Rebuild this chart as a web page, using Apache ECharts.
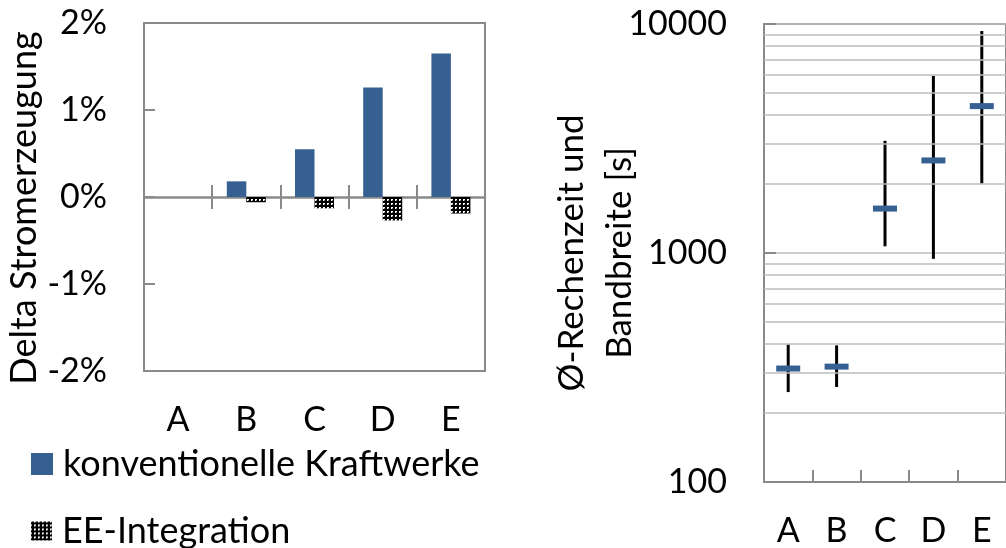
<!DOCTYPE html>
<html>
<head>
<meta charset="utf-8">
<script src="https://cdn.jsdelivr.net/npm/echarts@6/dist/echarts.min.js"></script>
<style>
  html, body { margin: 0; padding: 0; background: #ffffff; }
  #chart { width: 1006px; height: 548px; }
</style>
</head>
<body>
<div id="chart"></div>
<script>
// Szenarien
const categories = ['A', 'B', 'C', 'D', 'E'];

// Delta Stromerzeugung [%]
const konventionelleKraftwerke = [0, 0.18, 0.55, 1.26, 1.65];
const eeIntegration = [0, -0.06, -0.13, -0.27, -0.19];

// Rechenzeit [s]: Minimum, Maximum, Mittelwert
const rechenzeitMin = [247, 260, 1070, 943, 2010];
const rechenzeitMax = [399, 395, 3090, 5934, 9322];
const rechenzeitMittel = [313, 319, 1563, 2536, 4380];

// Hilfslinien der logarithmischen Achse
const logGridValues = [200, 300, 400, 500, 600, 700, 800, 900,
                       2000, 3000, 4000, 5000, 6000, 7000, 8000, 9000];

const FONT = 'Lato';
const AXIS_GRAY = '#8a8a8a';
const BLUE = '#376092';

// Schraffur fuer die EE-Integration
function makePattern() {
  const c = document.createElement('canvas');
  c.width = 4; c.height = 4;
  const ctx = c.getContext('2d');
  ctx.fillStyle = '#ffffff';
  ctx.fillRect(0, 0, 4, 4);
  ctx.fillStyle = '#000000';
  ctx.fillRect(1, 0, 2, 4);
  ctx.fillRect(0, 1, 4, 2);
  ctx.fillStyle = '#7a7a7a';
  ctx.fillRect(0, 0, 1, 1);
  return { image: c, repeat: 'repeat' };
}
const pattern = makePattern();

const errorData = categories.map((c, i) => [i, rechenzeitMin[i], rechenzeitMax[i], rechenzeitMittel[i]]);

const chart = echarts.init(document.getElementById('chart'), null, { renderer: 'canvas' });

const legendText = { fontFamily: FONT, fontSize: 36, color: '#000', lineHeight: 40, padding: [0, 0, 0, 5] };

const option = {
  backgroundColor: '#ffffff',
  animation: false,
  textStyle: { fontFamily: FONT, color: '#000' },
  legend: [
    {
      left: 31, top: 444, padding: 0,
      itemWidth: 22, itemHeight: 22, icon: 'rect',
      textStyle: legendText,
      data: ['konventionelle Kraftwerke']
    },
    {
      left: 31, top: 511, padding: 0,
      itemWidth: 21, itemHeight: 19, icon: 'rect',
      textStyle: legendText,
      data: ['EE-Integration']
    }
  ],
  grid: [
    { left: 144, top: 23, width: 341, height: 348, show: true, borderColor: AXIS_GRAY, borderWidth: 2, containLabel: false },
    { left: 764, top: 24, width: 253, height: 459, show: true, borderColor: AXIS_GRAY, borderWidth: 2, containLabel: false }
  ],
  xAxis: [
    // Beschriftung unten
    {
      type: 'category', gridIndex: 0, data: categories, position: 'bottom',
      axisLine: { show: false, onZero: false },
      axisTick: { show: false },
      axisLabel: { fontFamily: FONT, fontSize: 34, color: '#000', margin: 32 }
    },
    // Nulllinie mit Strichen nach unten
    {
      type: 'category', gridIndex: 0, data: categories, position: 'bottom',
      axisLine: { show: true, onZero: true, onZeroAxisIndex: 0, lineStyle: { color: AXIS_GRAY, width: 2.5 } },
      axisTick: { show: true, inside: false, length: 12, lineStyle: { color: AXIS_GRAY, width: 2 } },
      axisLabel: { show: false }
    },
    // Striche nach oben
    {
      type: 'category', gridIndex: 0, data: categories, position: 'top',
      axisLine: { show: false, onZero: true, onZeroAxisIndex: 1 },
      axisTick: { show: true, inside: false, length: 12, lineStyle: { color: AXIS_GRAY, width: 2 } },
      axisLabel: { show: false }
    },
    // Rechenzeit
    {
      type: 'category', gridIndex: 1, data: categories,
      axisLine: { show: true, onZero: false, lineStyle: { color: AXIS_GRAY, width: 2 } },
      axisTick: { show: true, inside: true, length: 12, lineStyle: { color: AXIS_GRAY, width: 2 } },
      axisLabel: { fontFamily: FONT, fontSize: 34, color: '#000', margin: 32 }
    }
  ],
  yAxis: [
    {
      type: 'value', gridIndex: 0, min: -2, max: 2, interval: 1,
      name: 'Delta Stromerzeugung', nameLocation: 'middle', nameRotate: 90, nameGap: 102,
      nameMoveOverlap: false,
      nameTextStyle: { fontFamily: FONT, fontSize: 36, color: '#000', padding: [0, 22, 0, 0] },
      axisLine: { show: true, lineStyle: { color: AXIS_GRAY, width: 2 } },
      axisTick: { show: true, inside: true, length: 11, lineStyle: { color: AXIS_GRAY, width: 2 } },
      axisLabel: { fontFamily: FONT, fontSize: 34, color: '#000', margin: 37, formatter: v => v + '%' },
      splitLine: { show: false }
    },
    {
      type: 'value', gridIndex: 0, min: -2, max: 2, interval: 1, show: false
    },
    {
      type: 'log', logBase: 10, gridIndex: 1, min: 100, max: 10000,
      name: 'Ø-Rechenzeit und\nBandbreite [s]', nameLocation: 'middle', nameRotate: 90, nameGap: 120,
      nameMoveOverlap: false,
      nameTextStyle: { fontFamily: FONT, fontSize: 35, color: '#000', lineHeight: 48, align: 'center' },
      axisLine: { show: true, lineStyle: { color: AXIS_GRAY, width: 2 } },
      axisTick: { show: true, inside: true, length: 12, lineStyle: { color: AXIS_GRAY, width: 2 } },
      axisLabel: { fontFamily: FONT, fontSize: 34, color: '#000', margin: 37, formatter: v => String(Math.round(v)) },
      splitLine: { show: true, lineStyle: { color: '#bdbdbd', width: 1.5 } }
    }
  ],
  series: [
    {
      name: 'konventionelle Kraftwerke', type: 'bar', xAxisIndex: 0, yAxisIndex: 0,
      data: konventionelleKraftwerke, barWidth: '28.6%', barGap: '0%',
      itemStyle: { color: BLUE }, z: 3
    },
    {
      name: 'EE-Integration', type: 'bar', xAxisIndex: 0, yAxisIndex: 0,
      data: eeIntegration, barWidth: '28.6%', barGap: '0%',
      itemStyle: { color: pattern }, z: 3
    },
    {
      type: 'line', xAxisIndex: 3, yAxisIndex: 2, data: [], silent: true, z: 1,
      markLine: {
        silent: true, symbol: 'none', animation: false,
        label: { show: false },
        lineStyle: { color: '#bdbdbd', width: 1.5, type: 'solid' },
        data: logGridValues.map(v => ({ yAxis: v }))
      }
    },
    {
      type: 'custom', xAxisIndex: 3, yAxisIndex: 2, z: 4,
      encode: { x: 0, y: [1, 2, 3] },
      data: errorData,
      renderItem: function (params, api) {
        const idx = api.value(0);
        const low = api.coord([idx, api.value(1)]);
        const high = api.coord([idx, api.value(2)]);
        const mean = api.coord([idx, api.value(3)]);
        return {
          type: 'group',
          children: [
            { type: 'line', shape: { x1: low[0], y1: low[1], x2: high[0], y2: high[1] },
              style: { stroke: '#000000', lineWidth: 3 } },
            { type: 'rect', shape: { x: mean[0] - 12, y: mean[1] - 3, width: 24, height: 6 },
              style: { fill: BLUE } }
          ]
        };
      }
    }
  ]
};

chart.setOption(option);
</script>
</body>
</html>
